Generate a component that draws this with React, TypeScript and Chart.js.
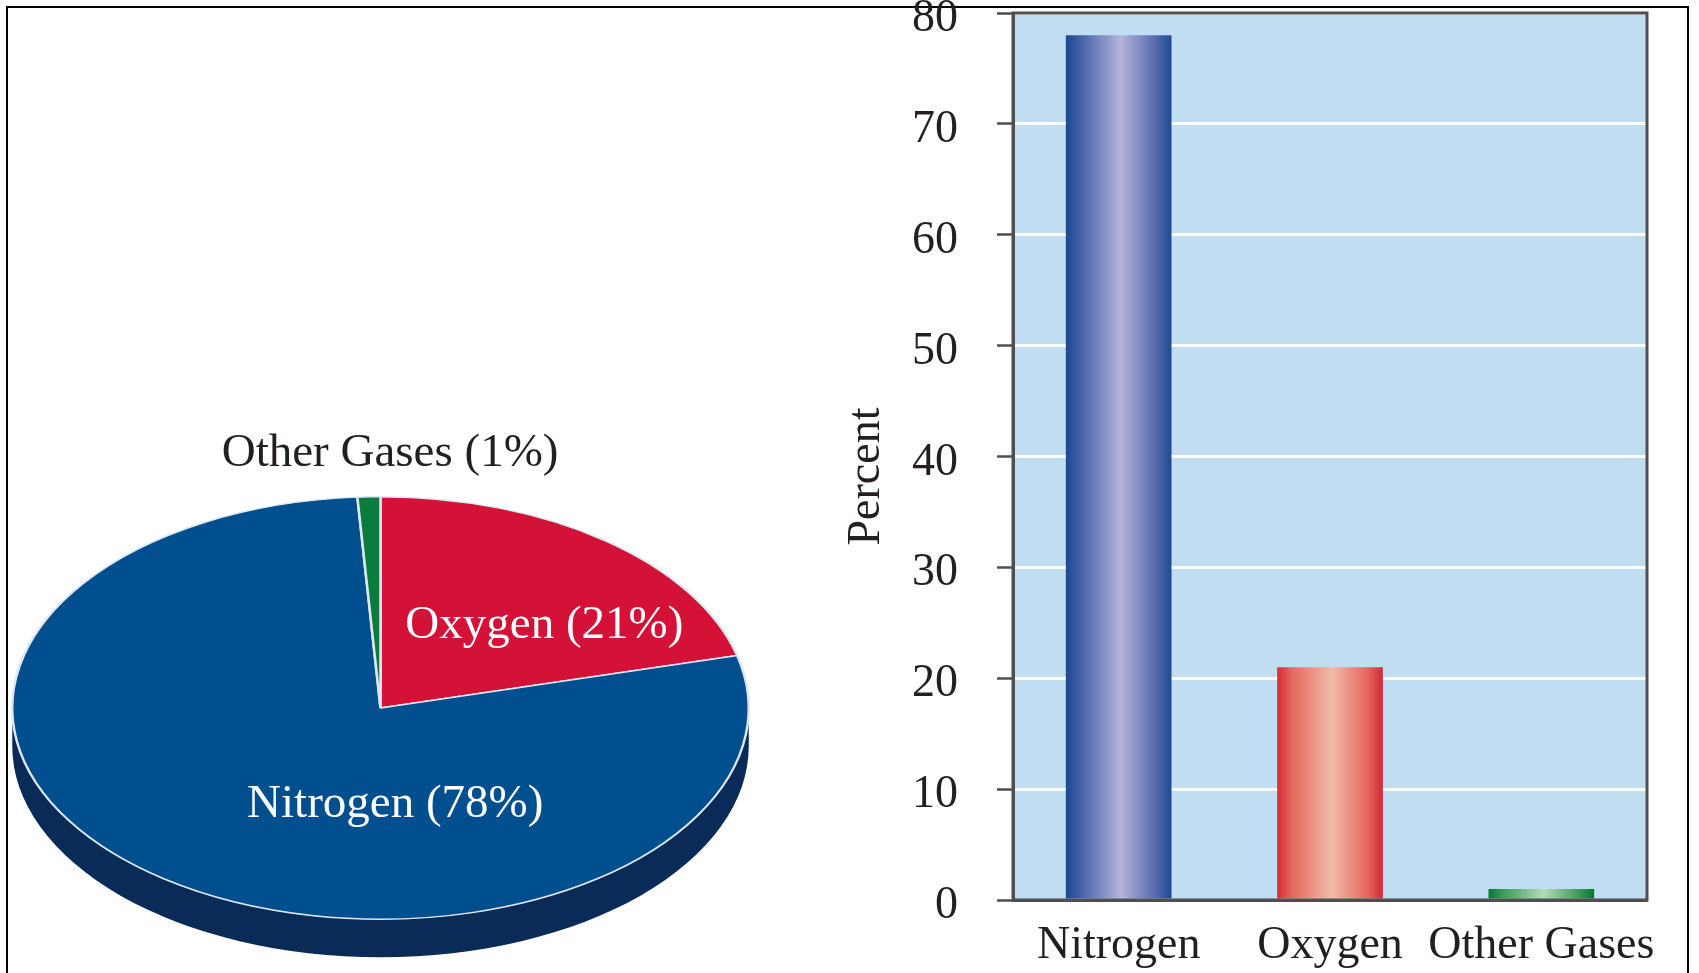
import React, { useEffect, useRef } from 'react';
import { Chart, registerables } from 'chart.js';

Chart.register(...registerables);

// Composition of dry air, in percent
const gases = ['Nitrogen', 'Oxygen', 'Other Gases'];
const percents = [78, 21, 1];
const percentTicks = [0, 10, 20, 30, 40, 50, 60, 70, 80];
// clockwise slice order for the pie, starting at 12 o'clock
const pieOrder = [1, 0, 2];

const SERIF = '"Liberation Serif", "Times New Roman", Times, serif';
const INK = '#231f20';
const AXIS = '#4f4f4f';

const pieTop: Record<string, string> = {
  Nitrogen: '#024f8f',
  Oxygen: '#d41137',
  'Other Gases': '#0a7d3c',
};
const pieWall: Record<string, string> = {
  Nitrogen: '#0a2a58',
  Oxygen: '#7c0a20',
  'Other Gases': '#05461f',
};
const pieLabelInk: Record<string, string> = {
  Nitrogen: '#ffffff',
  Oxygen: '#ffffff',
  'Other Gases': INK,
};
// label centres, as fractions of the radius from the pie centre
const pieLabelAt: Record<string, [number, number]> = {
  Nitrogen: [0.04, 0.458],
  Oxygen: [0.445, -0.392],
  'Other Gases': [0.026, -1.203],
};

const barShades: Record<string, [number, string][]> = {
  Nitrogen: [[0, '#1a4893'], [0.14, '#4660a6'], [0.52, '#b5b4da'], [0.86, '#5268ab'], [1, '#1c4a95']],
  Oxygen: [[0, '#d82a38'], [0.14, '#e5685e'], [0.52, '#f1bba8'], [0.86, '#e4665c'], [1, '#d62636']],
  'Other Gases': [[0, '#0b763a'], [0.14, '#3c9a5c'], [0.52, '#b2dcb9'], [0.86, '#3a985a'], [1, '#0a7438']],
};

// Squashes the pie into a tilted disc and gives it a side wall
const tiltedPie = {
  id: 'tiltedPie',
  beforeDatasetsDraw(chart: any, _args: any, opts: any) {
    const arcs = chart.getDatasetMeta(0).data;
    if (!arcs.length) return;
    const { x: cx, y: cy, outerRadius: R } = arcs[0].getProps(['x', 'y', 'outerRadius'], true);
    const k = opts.tilt;
    const D = opts.depth / k;
    const ctx = chart.ctx;
    ctx.save();
    ctx.translate(0, cy);
    ctx.scale(1, k);
    ctx.translate(0, -cy);
    arcs.forEach((arc: any, i: number) => {
      const { startAngle, endAngle } = arc.getProps(['startAngle', 'endAngle'], true);
      for (let n = -1; n <= 1; n++) {
        const lo = Math.max(startAngle + 2 * Math.PI * n, 0);
        const hi = Math.min(endAngle + 2 * Math.PI * n, Math.PI);
        if (hi <= lo) continue;
        ctx.beginPath();
        ctx.arc(cx, cy, R, lo, hi);
        ctx.arc(cx, cy + D, R, hi, lo, true);
        ctx.closePath();
        ctx.fillStyle = opts.wallColors[i];
        ctx.fill();
      }
    });
  },
  afterDatasetsDraw(chart: any, _args: any, opts: any) {
    const ctx = chart.ctx;
    ctx.restore();
    const arcs = chart.getDatasetMeta(0).data;
    if (!arcs.length) return;
    const { x: cx, y: cy, outerRadius: R } = arcs[0].getProps(['x', 'y', 'outerRadius'], true);
    const labels = chart.data.labels;
    const values = chart.data.datasets[0].data;
    ctx.save();
    ctx.font = `${opts.fontSize}px ${SERIF}`;
    ctx.textAlign = 'center';
    ctx.textBaseline = 'middle';
    labels.forEach((name: string, i: number) => {
      const [fx, fy] = opts.labelAt[name];
      ctx.fillStyle = opts.labelInk[name];
      ctx.fillText(`${name} (${values[i]}%)`, cx + fx * R, cy + fy * R * opts.tilt);
    });
    ctx.restore();
  },
};

// Plot background, frame and the rotated value-axis title
const plotFrame = {
  id: 'plotFrame',
  beforeDraw(chart: any, _args: any, opts: any) {
    const { ctx, chartArea: a } = chart;
    ctx.save();
    ctx.fillStyle = opts.fill;
    ctx.fillRect(a.left, a.top, a.right - a.left, a.bottom - a.top);
    ctx.restore();
  },
  afterDatasetsDraw(chart: any, _args: any, opts: any) {
    const { ctx, chartArea: a } = chart;
    ctx.save();
    ctx.strokeStyle = opts.stroke;
    ctx.lineWidth = opts.width;
    ctx.strokeRect(a.left, a.top, a.right - a.left, a.bottom - a.top);
    ctx.restore();
  },
  afterDraw(chart: any, _args: any, opts: any) {
    const { ctx, chartArea: a } = chart;
    ctx.save();
    ctx.translate(a.left - opts.titleGap, (a.top + a.bottom) / 2 + opts.titleShift);
    ctx.rotate(-Math.PI / 2);
    ctx.font = `${opts.titleSize}px ${SERIF}`;
    ctx.fillStyle = INK;
    ctx.textAlign = 'center';
    ctx.textBaseline = 'middle';
    ctx.fillText(opts.title, 0, 0);
    ctx.restore();
  },
};

function barGradient(c: any) {
  const name = gases[c.dataIndex];
  const stops = barShades[name];
  const chart = c.chart;
  const xs = chart.scales && chart.scales.x;
  if (!xs || !chart.chartArea || c.type !== 'data') return stops[2][1];
  const centre = xs.getPixelForValue(c.dataIndex);
  const half = ((xs.right - xs.left) / gases.length) * 0.5 * 0.5;
  const g = chart.ctx.createLinearGradient(centre - half, 0, centre + half, 0);
  stops.forEach(([o, col]) => g.addColorStop(o, col));
  return g;
}

export default function App() {
  const pieRef = useRef<HTMLCanvasElement>(null);
  const barRef = useRef<HTMLCanvasElement>(null);

  useEffect(() => {
    const pieLabels = pieOrder.map((i) => gases[i]);
    const pieValues = pieOrder.map((i) => percents[i]);

    const pie = new Chart(pieRef.current as HTMLCanvasElement, {
      type: 'pie',
      data: {
        labels: pieLabels,
        datasets: [
          {
            data: pieValues,
            backgroundColor: pieLabels.map((n) => pieTop[n]),
            borderColor: '#dfe8f2',
            borderWidth: 2.5,
            hoverOffset: 0,
            offset: 0,
            clip: false,
          } as any,
        ],
      },
      options: {
        responsive: false,
        animation: false,
        events: [],
        rotation: 0,
        layout: { padding: { left: 11, right: 50, top: 338.5, bottom: 22.5 } },
        plugins: {
          legend: { display: false },
          tooltip: { enabled: false },
          tiltedPie: {
            tilt: 0.5737,
            depth: 38,
            fontSize: 47,
            wallColors: pieLabels.map((n) => pieWall[n]),
            labelInk: pieLabelInk,
            labelAt: pieLabelAt,
          },
        } as any,
      },
      plugins: [tiltedPie],
    });

    const bar = new Chart(barRef.current as HTMLCanvasElement, {
      type: 'bar',
      data: {
        labels: gases,
        datasets: [
          {
            data: percents,
            backgroundColor: barGradient,
            borderWidth: 0,
            barPercentage: 0.5,
            categoryPercentage: 1,
          },
        ],
      },
      options: {
        responsive: false,
        animation: false,
        events: [],
        layout: { padding: { left: 0, right: 52, top: 13, bottom: 0 } },
        scales: {
          x: {
            grid: { display: false, drawTicks: false },
            border: { display: true, color: AXIS, width: 3 },
            ticks: {
              font: { family: SERIF, size: 46 },
              color: INK,
              padding: 18,
              maxRotation: 0,
              minRotation: 0,
              autoSkip: false,
            },
            afterFit: (s: any) => {
              s.height = 73;
              s.paddingLeft = 0;
              s.paddingRight = 0;
            },
          },
          y: {
            min: 0,
            max: 80,
            afterBuildTicks: (s: any) => {
              s.ticks = percentTicks.map((v) => ({ value: v }));
            },
            grid: {
              color: '#ffffff',
              lineWidth: 3,
              tickColor: AXIS,
              tickLength: 16,
              tickWidth: 2.5,
            },
            border: { display: true, color: AXIS, width: 3 },
            ticks: {
              font: { family: SERIF, size: 46 },
              color: INK,
              padding: 39,
              labelOffset: 6,
            },
            afterFit: (s: any) => {
              s.width = 213;
              s.paddingTop = 0;
              s.paddingBottom = 0;
            },
          },
        },
        plugins: {
          legend: { display: false },
          tooltip: { enabled: false },
          plotFrame: {
            fill: '#c1ddf1',
            stroke: AXIS,
            width: 3,
            title: 'Percent',
            titleSize: 46,
            titleGap: 146,
            titleShift: 20,
          },
        } as any,
      },
      plugins: [plotFrame],
    });

    return () => {
      pie.destroy();
      bar.destroy();
    };
  }, []);

  return (
    <div
      style={{
        position: 'fixed',
        left: 0,
        top: 0,
        width: 1699,
        height: 973,
        overflow: 'hidden',
        background: '#ffffff',
      }}
    >
      <div
        style={{
          position: 'absolute',
          left: 6,
          top: 6,
          width: 1683,
          height: 1000,
          border: '2px solid #000',
          boxSizing: 'border-box',
        }}
      />
      <canvas
        ref={pieRef}
        width={800}
        height={1100}
        style={{ position: 'absolute', left: 0, top: 0, width: 800, height: 1100 }}
      />
      <canvas
        ref={barRef}
        width={899}
        height={973}
        style={{ position: 'absolute', left: 800, top: 0, width: 899, height: 973 }}
      />
    </div>
  );
}
